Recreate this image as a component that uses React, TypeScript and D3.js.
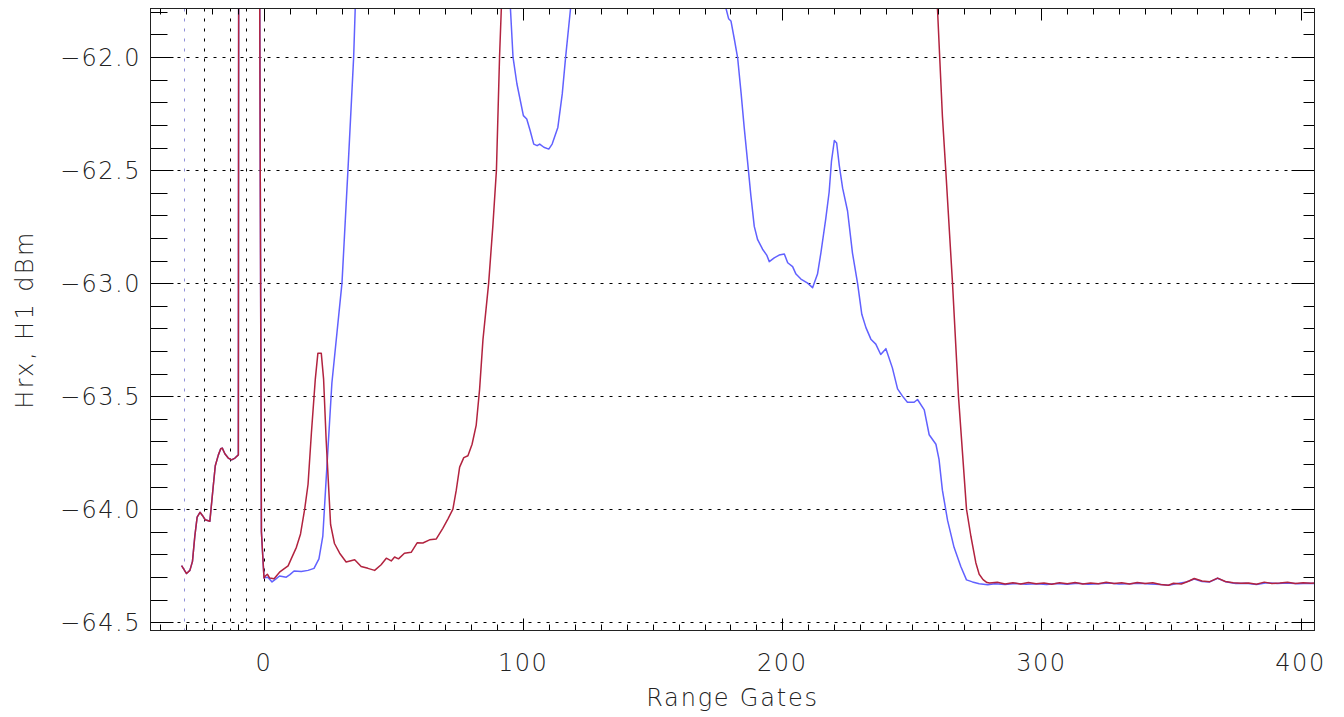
import * as d3 from "d3";
import type { ReactElement } from "react";

// ---- data ----

// both channels share the trace before gate 0
const leadIn: Array<[number, number]> = [
  [-31.8, -64.25], [-29.9, -64.285], [-28.6, -64.271], [-27.6, -64.231],
  [-26.7, -64.12], [-25.8, -64.035], [-24.7, -64.014], [-23.7, -64.029],
  [-22.7, -64.047], [-20.9, -64.054], [-19.6, -63.9], [-18.8, -63.808],
  [-17.6, -63.76], [-16.7, -63.733], [-16.1, -63.73], [-15.1, -63.755],
  [-13.8, -63.774], [-12.5, -63.782], [-11.2, -63.774], [-9.9, -63.76],
  [-9.7, -60.5], [-2.0, -60.5], [-1.0, -64.1], [0, -64.305],
];

const blueTrace: Array<[number, number]> = [
  [0.5, -64.303], [1.5, -64.301], [3.1, -64.322], [4.5, -64.31], [6, -64.296],
  [8.6, -64.301], [10, -64.29], [11.6, -64.274], [14.4, -64.276], [17, -64.271],
  [19.3, -64.262], [21.2, -64.22], [22.7, -64.119], [24, -63.865], [26.2, -63.442],
  [30.1, -62.999], [32.4, -62.499], [34.6, -62.0], [36, -61.5], [60, -60.6],
  [93.5, -61.4], [95.1, -61.785], [96.1, -62.0], [97.6, -62.118], [100.1, -62.259],
  [101.4, -62.274], [102.7, -62.325], [104.1, -62.385], [105.4, -62.392],
  [106.4, -62.385], [108, -62.399], [109.9, -62.407], [111.2, -62.385],
  [113.4, -62.311], [115.1, -62.163], [116.4, -62.0], [118.3, -61.785],
  [120, -61.4], [150, -60.6], [176.5, -61.5], [178.3, -61.785], [179.3, -61.83],
  [180.2, -61.84], [181.5, -61.92], [182.8, -62.005], [184.1, -62.157],
  [185.3, -62.31], [186.6, -62.46], [187.9, -62.614], [189.2, -62.749],
  [190.5, -62.808], [192.4, -62.85], [194, -62.876], [195, -62.905],
  [196.9, -62.888], [198.8, -62.876], [200.8, -62.871], [202.1, -62.91],
  [204, -62.927], [205.3, -62.96], [207.2, -62.982], [209.8, -63.0],
  [211.7, -63.02], [213.6, -62.96], [214.9, -62.867], [216.8, -62.715],
  [218.1, -62.597], [219, -62.46], [220.1, -62.369], [221, -62.38],
  [222, -62.479], [223.3, -62.58], [225.2, -62.681], [227.1, -62.867],
  [229.1, -63.003], [230.7, -63.138], [232.3, -63.197], [234.2, -63.248],
  [236.1, -63.27], [238, -63.316], [240, -63.29], [242.5, -63.375],
  [244.5, -63.468], [246.4, -63.5], [248.3, -63.527], [250.9, -63.527],
  [252.2, -63.515], [254.8, -63.561], [256.7, -63.671], [259.3, -63.713],
  [260.5, -63.78], [261.8, -63.916], [263.8, -64.05], [266.3, -64.169],
  [268.9, -64.254], [271.1, -64.313], [273.4, -64.322], [276, -64.33],
  [279.3, -64.335],
];

const redTrace: Array<[number, number]> = [
  [0.5, -64.296], [1.3, -64.288], [2.2, -64.305], [3.9, -64.308], [6, -64.279],
  [7.3, -64.268], [9.3, -64.251], [10.5, -64.22], [12.5, -64.169], [14.1, -64.11],
  [15.7, -64.0], [17, -63.89], [18.3, -63.662], [19.8, -63.425], [20.8, -63.31],
  [22.1, -63.31], [23, -63.425], [24, -63.696], [25.7, -64.068], [27.2, -64.152],
  [29.2, -64.195], [31.7, -64.234], [35, -64.224], [37.5, -64.254],
  [40.1, -64.262], [42.7, -64.271], [45.2, -64.246], [47.2, -64.217],
  [49.1, -64.229], [50.4, -64.212], [51.9, -64.22], [54.2, -64.195],
  [56.8, -64.191], [59.1, -64.149], [61.3, -64.15], [63.9, -64.136],
  [66.5, -64.132], [69, -64.085], [71, -64.043], [72.9, -64.0], [74.2, -63.916],
  [75.5, -63.814], [77.1, -63.772], [78.7, -63.764], [80.3, -63.713],
  [81.9, -63.628], [83.2, -63.47], [84.5, -63.25], [86.7, -63.0],
  [88.3, -62.75], [89.7, -62.5], [90.9, -62.0], [92.5, -61.5], [180, -60.5],
  [258.5, -61.5], [259.9, -61.785], [261.8, -62.26], [263.1, -62.5],
  [265.7, -63.0], [268, -63.5], [271.1, -64.0], [272.8, -64.12],
  [274.7, -64.237], [276, -64.288], [277.5, -64.312], [279, -64.325],
];

const blueTail: Array<[number, number]> = [
  [282, -64.33], [286, -64.333], [290, -64.329], [294, -64.332], [298, -64.33],
  [302, -64.333], [306, -64.329], [310, -64.332], [314, -64.328], [318, -64.332],
  [322, -64.33], [326, -64.327], [330, -64.331], [334, -64.33], [338, -64.328],
  [342, -64.331], [346, -64.334], [349, -64.337], [352, -64.33], [356, -64.322],
  [359, -64.309], [362, -64.32], [365, -64.322], [368, -64.306], [371, -64.321],
  [375, -64.329], [379, -64.328], [383, -64.333], [387, -64.326], [391, -64.329],
  [395, -64.327], [399, -64.33], [403, -64.328], [406, -64.329],
];

const redTail: Array<[number, number]> = [
  [280, -64.327], [283, -64.324], [286, -64.331], [289, -64.326], [292, -64.331],
  [295, -64.325], [298, -64.33], [301, -64.327], [304, -64.332], [307, -64.326],
  [310, -64.33], [313, -64.325], [316, -64.331], [319, -64.327], [322, -64.33],
  [325, -64.324], [328, -64.329], [331, -64.326], [334, -64.331], [337, -64.325],
  [340, -64.329], [343, -64.326], [346, -64.333], [349, -64.337], [351, -64.328],
  [354, -64.331], [357, -64.318], [359, -64.307], [362, -64.318], [365, -64.321],
  [368, -64.305], [371, -64.32], [374, -64.326], [377, -64.328], [380, -64.327],
  [383, -64.332], [386, -64.323], [389, -64.329], [392, -64.327], [395, -64.324],
  [398, -64.329], [401, -64.326], [404, -64.328], [406, -64.327],
];

// dotted gate markers
const markerGates = [-23, -13, -7, 0];
const lavenderMarker = -31;

const xTickLabels = [0, 100, 200, 300, 400];
const yTickLabels = [-64.5, -64.0, -63.5, -63.0, -62.5, -62.0];

// ---- layout ----
const WIDTH = 1344;
const HEIGHT = 717;
const L = 150.5;
const R = 1314.5;
const T = 8.5;
const B = 630.5;

const BLUE = "#6161ff";
const RED = "#b2233f";
const FONT = "'DejaVu Sans', sans-serif";
const FS = 24;

const fmt = (v: number): string => v.toFixed(1).replace("-", "\u2212");

export default function App(): ReactElement {
  const x = d3.scaleLinear().domain([-43.8, 405.4]).range([L, R]);
  const y = d3.scaleLinear().domain([-64.537, -61.785]).range([B, T]);

  const line = d3
    .line<[number, number]>()
    .x((d) => x(d[0]))
    .y((d) => y(d[1]));

  const blue = [...leadIn, ...blueTrace, ...blueTail];
  const red = [...leadIn, ...redTrace, ...redTail];

  const xMinor = d3.range(-40, 406, 10);
  const yMinor = d3.range(-64.5, -61.75, 0.1).map((v) => Math.round(v * 10) / 10);

  return (
    <svg
      width={WIDTH}
      height={HEIGHT}
      style={{ position: "absolute", left: 0, top: 0, background: "#fff" }}
      fontFamily={FONT}
    >
      <defs>
        <clipPath id="plot-clip">
          <rect x={L} y={T} width={R - L} height={B - T} />
        </clipPath>
      </defs>
      <rect width={WIDTH} height={HEIGHT} fill="#fff" />

      {/* horizontal dotted grid at labelled values */}
      {yTickLabels.map((v) => (
        <line
          key={`g${v}`}
          x1={L}
          x2={R}
          y1={Math.round(y(v)) + 0.5}
          y2={Math.round(y(v)) + 0.5}
          stroke="#000"
          strokeWidth={1}
          strokeDasharray="3,6"
        />
      ))}

      {/* gate markers */}
      <line
        x1={Math.round(x(lavenderMarker)) + 0.5}
        x2={Math.round(x(lavenderMarker)) + 0.5}
        y1={T}
        y2={B}
        stroke="#8f8fd8"
        strokeWidth={1}
        strokeDasharray="3,7"
      />
      {markerGates.map((g) => (
        <line
          key={`m${g}`}
          x1={Math.round(x(g)) + 0.5}
          x2={Math.round(x(g)) + 0.5}
          y1={T}
          y2={B}
          stroke="#000"
          strokeWidth={1}
          strokeDasharray="3,7"
        />
      ))}

      <g clipPath="url(#plot-clip)" fill="none" strokeLinejoin="round">
        <path d={line(blue) ?? ""} stroke={BLUE} strokeWidth={1.5} />
        <path d={line(red) ?? ""} stroke={RED} strokeWidth={1.5} />
      </g>

      {/* x ticks, bottom and top */}
      {xMinor.map((g) => {
        const major = g % 100 === 0;
        const px = Math.round(x(g)) + 0.5;
        const len = major ? 12 : 6;
        return (
          <g key={`xt${g}`} stroke="#000" strokeWidth={1}>
            <line x1={px} x2={px} y1={B} y2={B - len} />
            <line x1={px} x2={px} y1={T} y2={T + len} />
          </g>
        );
      })}

      {/* y ticks, left and right */}
      {yMinor.map((v) => {
        const major = Math.abs(v * 2 - Math.round(v * 2)) < 1e-6;
        const py = Math.round(y(v)) + 0.5;
        return (
          <g key={`yt${v}`} stroke="#000" strokeWidth={1}>
            <line x1={L} x2={L + (major ? 23 : 17)} y1={py} y2={py} />
            <line x1={R} x2={R - (major ? 23 : 11)} y1={py} y2={py} />
          </g>
        );
      })}

      {/* frame */}
      <rect x={L} y={T} width={R - L} height={B - T} fill="none" stroke="#222" strokeWidth={1} />

      {/* tick labels */}
      {xTickLabels.map((g) => (
        <text
          key={`xl${g}`}
          x={x(g)}
          y={671}
          textAnchor="middle"
          fontSize={FS}
          letterSpacing={1.5}
          fill="#222"
          fontWeight={300}
        >
          {g}
        </text>
      ))}
      {yTickLabels.map((v) => (
        <text
          key={`yl${v}`}
          x={141}
          y={y(v) + 9}
          textAnchor="end"
          fontSize={FS}
          letterSpacing={1.5}
          fill="#222"
          fontWeight={300}
        >
          {fmt(v)}
        </text>
      ))}

      {/* axis titles */}
      <text
        x={(L + R) / 2}
        y={706}
        textAnchor="middle"
        fontSize={FS}
        letterSpacing={1.8}
        fill="#222"
        fontWeight={300}
      >
        Range Gates
      </text>
      <text
        transform={`translate(33, ${(T + B) / 2}) rotate(-90)`}
        textAnchor="middle"
        fontSize={FS}
        letterSpacing={2.4}
        fill="#222"
        fontWeight={300}
      >
        Hrx, H1 dBm
      </text>
    </svg>
  );
}
